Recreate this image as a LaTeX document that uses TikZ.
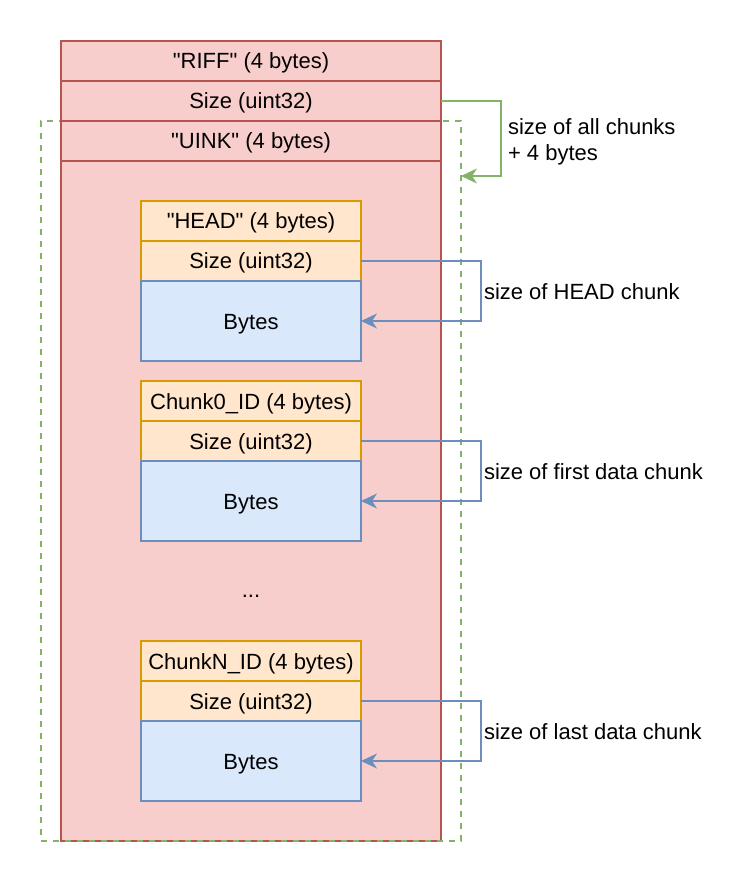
\documentclass[tikz,border=0pt]{standalone}
\usepackage{fontspec}
\setmainfont{Liberation Sans}
\usetikzlibrary{positioning, arrows.meta}

\definecolor{rifffill}{HTML}{F8CECC}
\definecolor{riffline}{HTML}{B85450}
\definecolor{idfill}{HTML}{FFE6CC}
\definecolor{idline}{HTML}{D79B00}
\definecolor{bytesfill}{HTML}{DAE8FC}
\definecolor{bytesline}{HTML}{6C8EBF}
\definecolor{alldash}{HTML}{82B366}

\begin{document}
\begin{tikzpicture}[x=1pt, y=-1pt, node distance=40pt, on grid, line width=1.8pt,
        >={Stealth[length=16pt, width=15pt, inset=5pt]},
        every node/.style={font=\fontsize{22}{26.4}\selectfont, inner sep=0pt, outer sep=0pt},
        celltext/.style={text height=20pt, text depth=4pt},
        riffrow/.style={celltext, draw=riffline, fill=rifffill, minimum width=380pt, minimum height=40pt},
        riffbody/.style={draw=riffline, fill=rifffill, minimum width=380pt, minimum height=800pt},
        chunkarea/.style={draw=alldash, dash pattern=on 6pt off 6pt, minimum width=420pt, minimum height=720pt},
        idrow/.style={celltext, draw=idline, fill=idfill, minimum width=220pt, minimum height=40pt},
        bytesbox/.style={celltext, draw=bytesline, fill=bytesfill, minimum width=220pt, minimum height=80pt},
        sizelink/.style={draw=bytesline, ->},
        alllink/.style={draw=alldash, ->},
        sizelabel/.style={right, inner sep=3pt}]
        \useasboundingbox (0,0) rectangle (742,882);

        \node[riffbody] (riffbox) at (251,441) {};
        \node[chunkarea] (chunks) at (251,481) {};
        \node[riffrow] (riffid) at (251,61) {\textquotedbl RIFF\textquotedbl{} (4 bytes)};
        \node[riffrow, below=of riffid] (riffsize) {Size (uint32)};
        \node[riffrow, below=of riffsize] (uinkid) {\textquotedbl UINK\textquotedbl{} (4 bytes)};

        % HEAD chunk
        \node[idrow] (headid) at (251,221) {\textquotedbl HEAD\textquotedbl{} (4 bytes)};
        \node[idrow, below=of headid] (headsize) {Size (uint32)};
        \node[bytesbox, below=60pt of headsize] (headbytes) {Bytes};

        % first data chunk
        \node[idrow] (firstid) at (251,401) {Chunk0\_ID (4 bytes)};
        \node[idrow, below=of firstid] (firstsize) {Size (uint32)};
        \node[bytesbox, below=60pt of firstsize] (firstbytes) {Bytes};

        \node[celltext] (dots) at (251,589) {...};

        % last data chunk
        \node[idrow] (lastid) at (251,661) {ChunkN\_ID (4 bytes)};
        \node[idrow, below=of lastid] (lastsize) {Size (uint32)};
        \node[bytesbox, below=60pt of lastsize] (lastbytes) {Bytes};

        \coordinate (chunksin) at (461,176);
        \path[alllink] (riffsize.east) -- ++(60,0) |- node[sizelabel, align=left, pos=0.25, xshift=4pt, yshift=-3.5pt] {size of all chunks\\+ 4 bytes} (chunksin);

        \path[sizelink] (headsize.east) -- ++(120,0) |- node[sizelabel, celltext, pos=0.25] {size of HEAD chunk} (headbytes.east);
        \path[sizelink] (firstsize.east) -- ++(120,0) |- node[sizelabel, celltext, pos=0.25] {size of first data chunk} (firstbytes.east);
        \path[sizelink] (lastsize.east) -- ++(120,0) |- node[sizelabel, celltext, pos=0.25] {size of last data chunk} (lastbytes.east);
    \end{tikzpicture}
\end{document}
